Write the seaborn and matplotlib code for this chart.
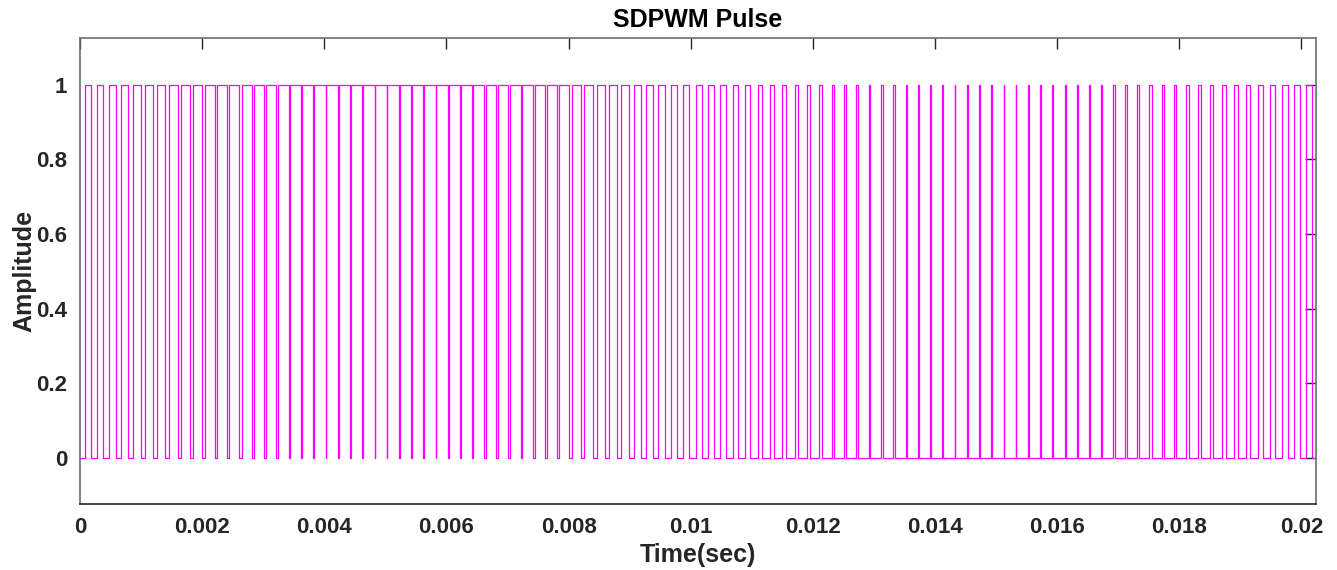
import numpy as np
import pandas as pd
import matplotlib
matplotlib.use("Agg")
import matplotlib.pyplot as plt
from matplotlib.ticker import FuncFormatter, FixedLocator
import seaborn as sns

# ---- data ----
carrier_period = 0.0002      # s (5 kHz carrier)
carrier_phase = 0.00003      # s, centre of first low notch
duty = [0.51, 0.54, 0.57, 0.60, 0.63, 0.65, 0.68, 0.70, 0.73, 0.75,
        0.78, 0.80, 0.82, 0.84, 0.86, 0.87, 0.89, 0.90, 0.91, 0.92,
        0.93, 0.94, 0.94, 0.95, 0.95, 0.95, 0.95, 0.94, 0.94, 0.93,
        0.92, 0.91, 0.90, 0.89, 0.87, 0.86, 0.84, 0.82, 0.80, 0.78,
        0.75, 0.73, 0.70, 0.68, 0.65, 0.63, 0.60, 0.57, 0.54, 0.51,
        0.49, 0.46, 0.43, 0.40, 0.37, 0.35, 0.32, 0.30, 0.27, 0.25,
        0.22, 0.20, 0.18, 0.16, 0.14, 0.13, 0.11, 0.10, 0.09, 0.08,
        0.07, 0.06, 0.06, 0.05, 0.05, 0.05, 0.05, 0.06, 0.06, 0.07,
        0.08, 0.09, 0.10, 0.11, 0.13, 0.14, 0.16, 0.18, 0.20, 0.22,
        0.25, 0.27, 0.30, 0.32, 0.35, 0.37, 0.40, 0.43, 0.46, 0.49,
        0.51]
x_ticks = [0, 0.002, 0.004, 0.006, 0.008, 0.01, 0.012, 0.014, 0.016, 0.018, 0.02]
y_ticks = [0, 0.2, 0.4, 0.6, 0.8, 1]
t_end = 0.02024

# ---- build the pulse train edges from the duty list ----
ts = [0.0]
ys = [0.0]
for k, d in enumerate(duty):
    start = carrier_phase + k * carrier_period
    rise = start + (1 - d) * carrier_period / 2
    fall = start + (1 + d) * carrier_period / 2
    if rise >= t_end:
        break
    ts += [rise, rise]
    ys += [0.0, 1.0]
    if fall >= t_end:
        ts.append(t_end)
        ys.append(1.0)
        break
    ts += [fall, fall]
    ys += [1.0, 0.0]
else:
    ts.append(t_end)
    ys.append(0.0)
df = pd.DataFrame({"Time": ts, "Amplitude": ys})

# ---- plot ----
sns.set_theme(style="white")
plt.rcParams["font.family"] = ["Liberation Sans", "DejaVu Sans"]
plt.rcParams["font.weight"] = "bold"

fig = plt.figure(figsize=(13.37, 5.70), dpi=100)
ax = fig.add_axes([0.0598, 0.1153, 0.9843 - 0.0598, 0.9328 - 0.1153])

sns.lineplot(data=df, x="Time", y="Amplitude", estimator=None, sort=False,
             color="#FF00FF", linewidth=0.9, ax=ax)

ax.set_xlim(0, t_end)
ax.set_ylim(-0.125, 1.125)
ax.xaxis.set_major_locator(FixedLocator(x_ticks))
ax.yaxis.set_major_locator(FixedLocator(y_ticks))
ax.xaxis.set_major_formatter(FuncFormatter(lambda v, p: f"{v:g}"))
ax.yaxis.set_major_formatter(FuncFormatter(lambda v, p: f"{v:g}"))

ax.tick_params(axis="both", which="major", direction="in", length=8,
               width=1, colors="#262626", labelsize=16, top=True, right=True,
               pad=9)
for lab in ax.get_xticklabels() + ax.get_yticklabels():
    lab.set_fontweight("bold")
for s in ax.spines.values():
    s.set_visible(True)
    s.set_color("#6e6e6e")
    s.set_linewidth(1.2)
ax.spines["bottom"].set_color("#262626")

ax.set_xlabel("Time(sec)", fontsize=18, fontweight="bold", color="#262626", labelpad=4)
ax.set_ylabel("Amplitude", fontsize=18, fontweight="bold", color="#262626", labelpad=0)
ax.set_title("SDPWM Pulse", fontsize=18, fontweight="bold", color="#000000", pad=8)
ax.grid(False)

fig.savefig("out.png", dpi=100)
